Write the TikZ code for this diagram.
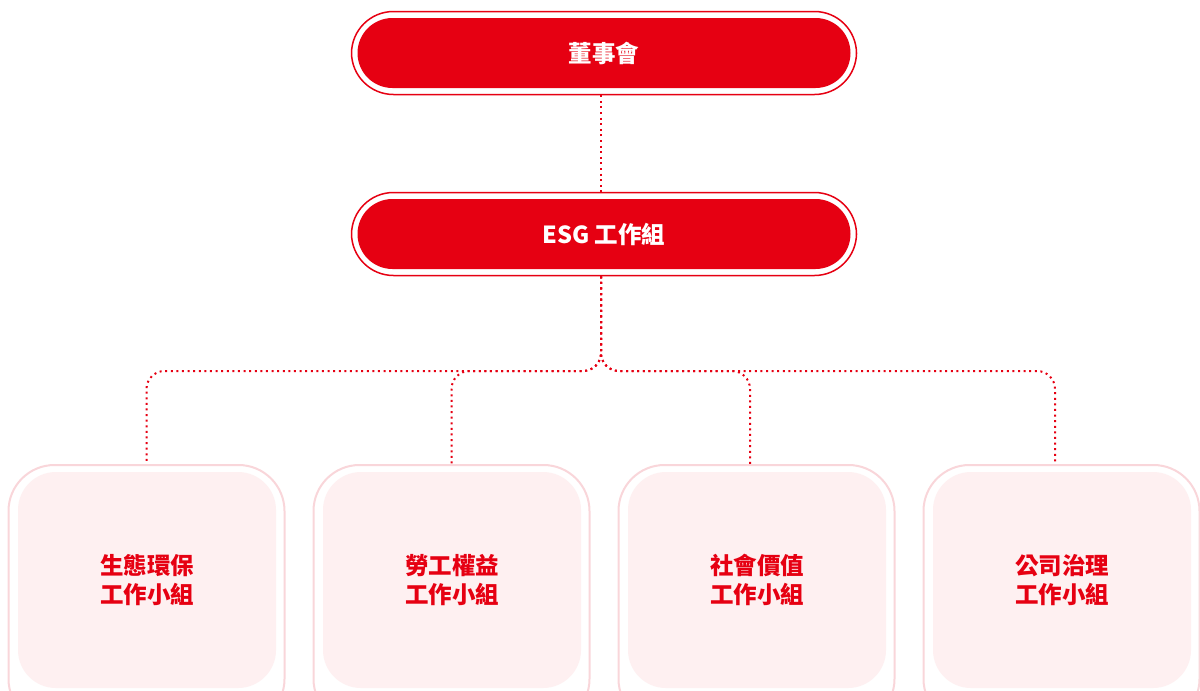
\documentclass[tikz,border=0pt]{standalone}
\usepackage{fontspec}
\newfontfamily\cjk{Noto Sans CJK TC}
\definecolor{esgred}{HTML}{E60012}
\definecolor{boxfill}{HTML}{FEF0F1}
\definecolor{boxline}{HTML}{F9D6DA}
\tikzset{
  outerpill/.style={draw=esgred, line width=1.5pt, fill=white, rounded corners=42pt,
    minimum width=505pt, minimum height=83pt, inner sep=0pt},
  innerpill/.style={fill=esgred, rounded corners=35pt, minimum width=493pt,
    minimum height=70pt, inner sep=0pt, text=white, font=\cjk\bfseries\fontsize{23.5pt}{28pt}\selectfont},
  outerbox/.style={draw=boxline, line width=2pt, fill=white, rounded corners=46pt,
    minimum width=276pt, minimum height=260pt, inner sep=0pt},
  innerbox/.style={fill=boxfill, rounded corners=38pt, minimum width=258pt,
    minimum height=216pt, inner sep=0pt, text=esgred, align=center,
    font=\cjk\bfseries\fontsize{23.5pt}{29pt}\selectfont},
  dotline/.style={draw=esgred, line width=2pt, dash pattern=on 2pt off 3.6pt, rounded corners=18pt}
}
\begin{document}
\begin{tikzpicture}[x=1pt,y=-1pt]
\useasboundingbox (0,0) rectangle (1200,691);
\clip (0,0) rectangle (1200,691);
\node[outerpill] (board) at (604,53) {};
\node[innerpill] (boardin) at (604,53) {董事會};
\node[outerpill] (esg) at (604,234) {};
\node[innerpill] (esgin) at (604,234) {ESG 工作組};
\node[outerbox, anchor=north] (g1) at (146.5,464) {};
\node[outerbox, anchor=north] (g2) at (451.5,464) {};
\node[outerbox, anchor=north] (g3) at (756.5,464) {};
\node[outerbox, anchor=north] (g4) at (1061.5,464) {};
\node[innerbox] (t1) at (147,580) {生態環保\\工作小組};
\node[innerbox] (t2) at (452,580) {勞工權益\\工作小組};
\node[innerbox] (t3) at (757,580) {社會價值\\工作小組};
\node[innerbox] (t4) at (1062,580) {公司治理\\工作小組};
\coordinate (hub) at (601,371);
\draw[dotline] ([xshift=-3pt]board.south) -- ([xshift=-3pt]esg.north);
\draw[dotline] ([xshift=-3pt]esg.south) -- (hub) -| (g1.north);
\draw[dotline] ([xshift=-3pt]esg.south) -- (hub) -| (g2.north);
\draw[dotline] ([xshift=-3pt]esg.south) -- (hub) -| ([xshift=-6.5pt]g3.north);
\draw[dotline] ([xshift=-3pt]esg.south) -- (hub) -| ([xshift=-6.5pt]g4.north);
\end{tikzpicture}
\end{document}
